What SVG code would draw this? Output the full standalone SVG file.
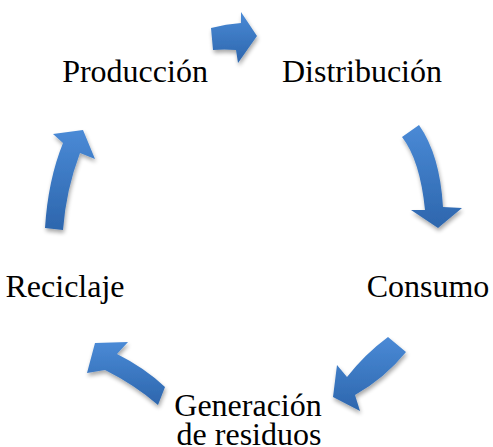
<svg xmlns="http://www.w3.org/2000/svg" width="493" height="447" viewBox="0 0 493 447">
<defs>
<linearGradient id="g" x1="0" y1="0" x2="0" y2="1">
<stop offset="0" stop-color="#4a8ad6"/>
<stop offset="1" stop-color="#2d66ad"/>
</linearGradient>
<filter id="sh" x="-30%" y="-30%" width="160%" height="160%">
<feGaussianBlur in="SourceAlpha" stdDeviation="2"/>
<feOffset dx="1" dy="3" result="b"/>
<feComponentTransfer><feFuncA type="linear" slope="0.35"/></feComponentTransfer>
<feMerge><feMergeNode/><feMergeNode in="SourceGraphic"/></feMerge>
</filter>
</defs>
<style>
.t{font-family:"Liberation Serif","Times New Roman",serif;font-size:32px;fill:#000;text-anchor:middle}
.a{fill:url(#g);filter:url(#sh)}
</style>
<rect width="493" height="447" fill="#fff"/>
<g id="connectors">
<path class="a" d="M211,28 Q226,24 241,23 L241,12 L257,36 L238,63 L236,50 Q224,49 213,50 Z"/>
<path class="a" d="M402,137 Q420,160 425,210 L411,210 L438,228 L462,208 L443,207 Q440,155 419,125 Z"/>
<path class="a" d="M388,337 Q365,354 347,377 L337,365 L333,397 L360,411 L355,395 Q385,378 406,352 Z"/>
<path class="a" d="M95,343 L128,342 L117,354 Q145,368 165,387 L158,405 Q135,385 105,370 L87,373 Z"/>
<path class="a" d="M45,228 Q48,180 63,143 L53,134 L83,130 L95,159 L80,153 Q66,190 63,230 Z"/>
</g>
<g id="produccion"><text class="t" x="135" y="82">Producción</text></g>
<g id="distribucion"><text class="t" x="362" y="82">Distribución</text></g>
<g id="consumo"><text class="t" x="428" y="297">Consumo</text></g>
<g id="generacion"><text class="t" x="248" y="416">Generación</text><text class="t" x="249" y="445">de residuos</text></g>
<g id="reciclaje"><text class="t" x="65" y="297">Reciclaje</text></g>
</svg>
